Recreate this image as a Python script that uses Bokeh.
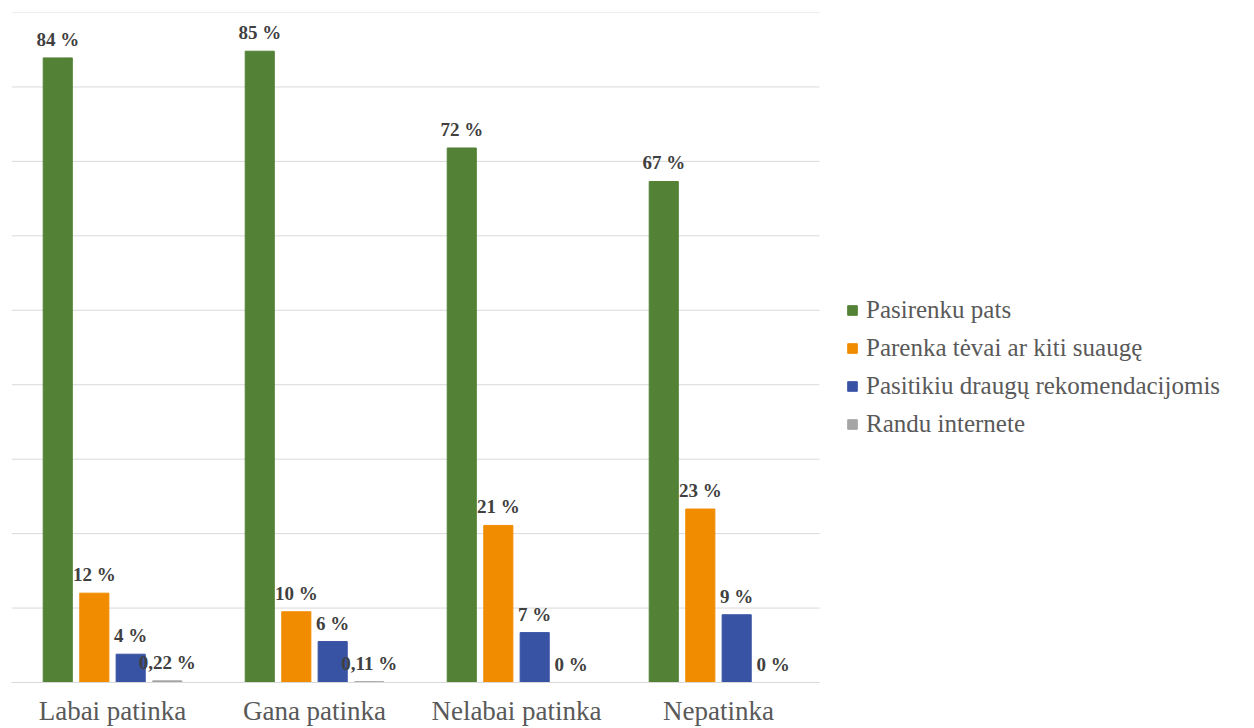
from bokeh.plotting import figure
from bokeh.models import (ColumnDataSource, Range1d, LabelSet, Legend, LegendItem,
                          FixedTicker)
from bokeh.transform import dodge
from bokeh.embed import file_html
from bokeh.resources import INLINE

categories = ["Labai patinka", "Gana patinka", "Nelabai patinka", "Nepatinka"]
series_names = ["Pasirenku pats", "Parenka tėvai ar kiti suaugę",
                "Pasitikiu draugų rekomendacijomis", "Randu internete"]
pasirenku = [83.9, 84.8, 71.8, 67.3]
parenka = [12.0, 9.5, 21.1, 23.3]
pasitikiu = [3.8, 5.5, 6.7, 9.1]
randu = [0.22, 0.11, 0.0, 0.0]
pasirenku_lbl = ["84 %", "85 %", "72 %", "67 %"]
parenka_lbl = ["12 %", "10 %", "21 %", "23 %"]
pasitikiu_lbl = ["4 %", "6 %", "7 %", "9 %"]
randu_lbl = ["0,22 %", "0,11 %", "0 %", "0 %"]
y_ticks = [0, 10, 20, 30, 40, 50, 60, 70, 80, 90]

colors = ["#538135", "#F18C00", "#3953A4", "#A5A5A5"]
series_vals = [pasirenku, parenka, pasitikiu, randu]
series_lbls = [pasirenku_lbl, parenka_lbl, pasitikiu_lbl, randu_lbl]
offsets = [-0.271, -0.090, 0.090, 0.271]
bar_w = 0.144

W, H = 1254, 728
left_border = 11
cat_px = 202  # pixel width of one category slot
n = len(categories)
x_end = (W - left_border) / cat_px
centers = [i + 0.5 for i in range(n)]

p = figure(x_range=Range1d(0, x_end), y_range=Range1d(0, 90),
           width=W, height=H, output_backend="svg", toolbar_location=None,
           min_border_left=left_border, min_border_top=12, min_border_right=0,
           min_border_bottom=30)

# gridlines limited to the category area
p.segment(x0=[0] * len(y_ticks), x1=[n] * len(y_ticks), y0=y_ticks, y1=y_ticks,
          line_color="#D9D9D9", line_width=1)

items = []
for name, vals, lbls, col, off in zip(series_names, series_vals, series_lbls, colors, offsets):
    src = ColumnDataSource(dict(xc=centers, val=vals, lbl=lbls))
    r = p.vbar(x=dodge("xc", off), top="val", width=bar_w, source=src,
               fill_color=col, line_color=col)
    items.append(LegendItem(label=name, renderers=[r]))
    labels = LabelSet(x=dodge("xc", off), y="val", text="lbl", source=src,
                      text_align="center", text_baseline="alphabetic", y_offset=12,
                      text_font="Liberation Serif", text_font_style="bold",
                      text_font_size="19px", text_color="#404040")
    p.add_layout(labels)

legend = Legend(items=items, location=(835, 244), orientation="vertical",
                label_text_font="Liberation Serif", label_text_font_size="25px",
                label_text_color="#595959", glyph_width=12, glyph_height=12,
                label_height=28, label_standoff=8, spacing=10, padding=0, margin=0,
                border_line_color=None, background_fill_alpha=0)
p.add_layout(legend, "center")

p.yaxis.visible = False
p.xgrid.visible = False
p.ygrid.visible = False
p.xaxis.ticker = FixedTicker(ticks=centers)
p.xaxis.major_label_overrides = {c: lab for c, lab in zip(centers, categories)}
p.xaxis.bounds = (0, n)
p.xaxis.axis_line_color = "#D9D9D9"
p.xaxis.major_tick_line_color = None
p.xaxis.minor_tick_line_color = None
p.xaxis.major_tick_out = 0
p.xaxis.major_tick_in = 0
p.xaxis.minor_tick_out = 0
p.xaxis.major_label_text_font = "Liberation Serif"
p.xaxis.major_label_text_font_size = "27px"
p.xaxis.major_label_text_color = "#595959"
p.xaxis.major_label_standoff = 13
p.outline_line_color = None

open("out.html", "w").write(file_html(p, INLINE))
